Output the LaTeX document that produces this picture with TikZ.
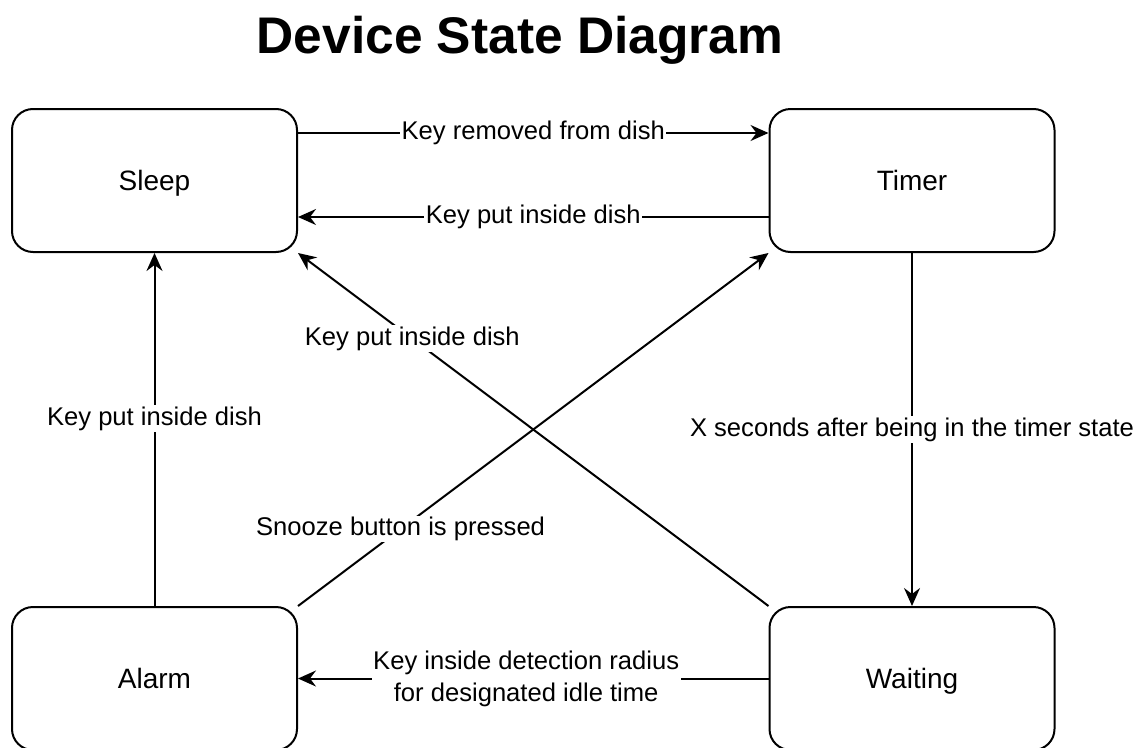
\documentclass[tikz,border=0pt]{standalone}
\usepackage{fontspec}
\setmainfont{Liberation Sans}
\usetikzlibrary{arrows.meta}
\begin{document}
\begin{tikzpicture}[x=1pt,y=-1pt,
  state/.style={draw, line width=2pt, rounded corners=21pt,
    minimum width=285pt, minimum height=143pt,
    text height=24pt, text depth=4pt,
    font=\fontsize{28}{34}\selectfont},
  trans/.style={-{Stealth[length=18pt,width=16pt,inset=6pt]}, line width=2pt},
  lbl/.style={fill=white, inner sep=1.5pt, align=center,
    font=\fontsize{25.6}{32}\selectfont}]
\useasboundingbox (0,0) rectangle (1140,747);

% title
\node[anchor=base, font=\fontsize{51.5}{60}\selectfont\bfseries] (title) at (520,53) {Device State Diagram};

% states
\node[state] (sleep)   at (154.5,180.5) {Sleep};
\node[state] (timer)   at (912,180.5)   {Timer};
\node[state] (alarm)   at (154.5,678.5) {Alarm};
\node[state] (waiting) at (912,678.5)   {Waiting};

% transitions
\draw[trans] ([yshift=47.5pt]sleep.east) -- node[lbl] {Key removed from dish} ([yshift=47.5pt]timer.west);
\draw[trans] ([yshift=-36.5pt]timer.west) -- node[lbl] {Key put inside dish} ([yshift=-36.5pt]sleep.east);
\draw[trans] (alarm.north) -- node[lbl, pos=0.53] {Key put inside dish} (sleep.south);
\draw[trans] (waiting.north west) -- node[lbl, pos=0.757] {Key put inside dish} (sleep.south east);
\draw[trans] (alarm.north east) -- node[lbl, pos=0.218] {Snooze button is pressed} (timer.south west);
\draw[trans] (timer.south) -- node[lbl, pos=0.5] {X seconds after being in the timer state} (waiting.north);
\draw[trans] (waiting.west) -- node[lbl, pos=0.515] {Key inside detection radius\\for designated idle time} (alarm.east);
\end{tikzpicture}
\end{document}
